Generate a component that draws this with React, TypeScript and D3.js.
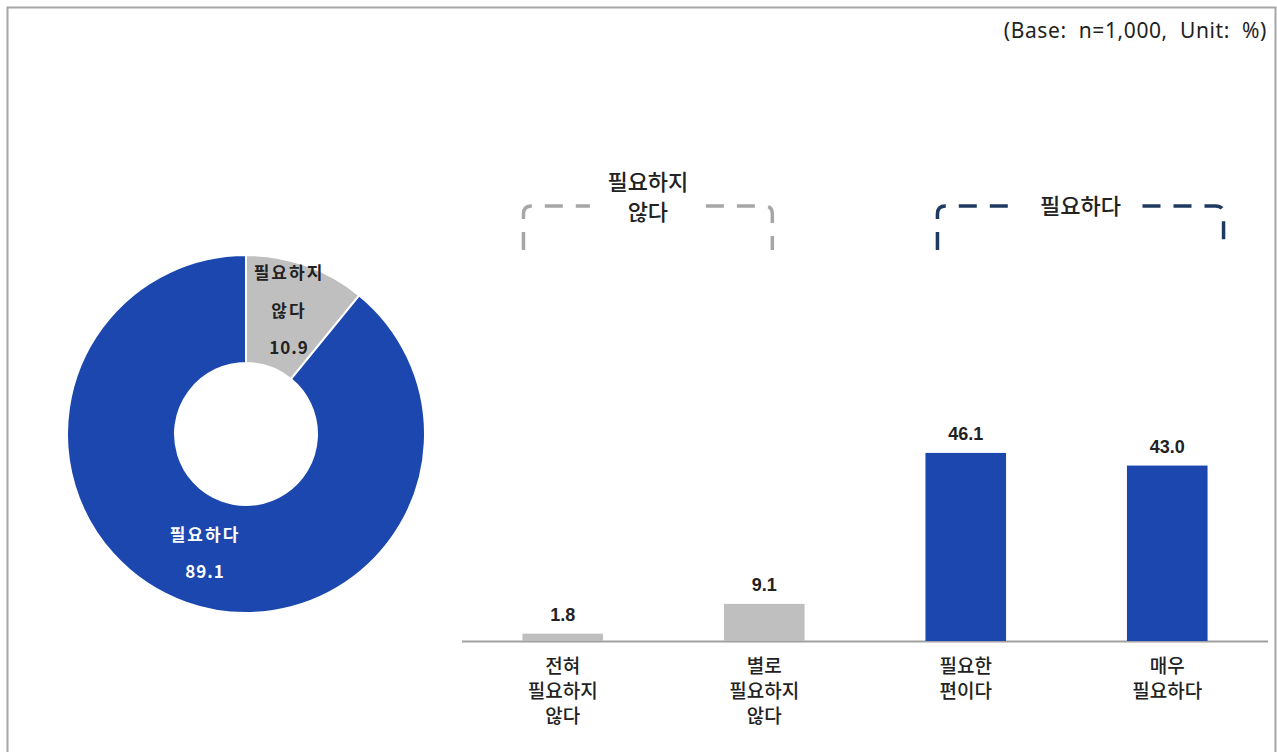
import React from "react";
import * as d3 from "d3";

const pieLabels = ["필요하지 않다", "필요하다"];
const pieValues = [10.9, 89.1];
const barCategories = ["전혀 필요하지 않다", "별로 필요하지 않다", "필요한 편이다", "매우 필요하다"];
const barLines = [["전혀", "필요하지", "않다"], ["별로", "필요하지", "않다"], ["필요한", "편이다"], ["매우", "필요하다"]];
const barValues = [1.8, 9.1, 46.1, 43.0];
const barGroup = ["neg", "neg", "pos", "pos"];
const baseNote = "(Base:  n=1,000,  Unit:  %)";

const BLUE = "#1b47ae";
const GRAY = "#bfbfbf";
const NAVY = "#1f3a60";
const KR = "'Noto Sans CJK KR', 'Noto Sans', sans-serif";

export default function App() {
  const W = 1277, H = 752;
  const cx = 246, cy = 434, rOut = 179, rIn = 71;
  const pie = d3.pie<number>().sort(null).value((d) => d);
  const arcs = pie(pieValues);
  const arc = d3.arc<d3.PieArcDatum<number>>().innerRadius(rIn).outerRadius(rOut);

  const x = d3.scaleBand<string>().domain(barCategories).range([462, 1268]).paddingInner(0.6).paddingOuter(0.3);
  const y = d3.scaleLinear().domain([0, 50]).range([641, 437]);

  const negL = x(barCategories[0])! + 1;
  const negR = x(barCategories[1])! + x.bandwidth() * 0.6;
  const posL = x(barCategories[2])! + 12;
  const posR = x(barCategories[3])! + x.bandwidth() + 16;
  const bTop = 206, bBot = 250, rc = 8;

  const bracket = (l: number, r: number, gapL: number, gapR: number) => [
    `M${l},${bBot} L${l},${bTop + rc} Q${l},${bTop} ${l + rc},${bTop} L${gapL},${bTop}`,
    `M${gapR},${bTop} L${r - rc},${bTop} Q${r},${bTop} ${r},${bTop + rc} L${r},${bBot}`,
  ];
  const negMid = (negL + negR) / 2;
  const posMid = (posL + posR) / 2;

  return (
    <svg width={W} height={H} style={{ position: "absolute", left: 0, top: 0, background: "#fff" }}>
      <path d={`M7.5,${H} L7.5,7.5 L1275.5,7.5 L1275.5,${H}`} fill="none" stroke="#a6a6a6" strokeWidth={2} />
      <text x={1267} y={38} textAnchor="end" fontFamily="'Noto Sans', sans-serif" fontSize={21} letterSpacing={0.6} fill="#222" style={{ whiteSpace: "pre" }}>
        {baseNote}
      </text>

      {arcs.map((a, i) => (
        <path key={i} d={arc(a)!} transform={`translate(${cx},${cy})`} fill={i === 0 ? GRAY : BLUE} stroke="#fff" strokeWidth={2} />
      ))}
      <g fontFamily={KR} fontWeight={700} fontSize={17} textAnchor="middle" letterSpacing={2}>
        <text x={289} y={279} fill="#222">필요하지</text>
        <text x={289} y={317} fill="#222">않다</text>
        <text x={289} y={354} fill="#222" letterSpacing={1}>{pieValues[0].toFixed(1)}</text>
        <text x={205} y={541} fill="#fff">필요하다</text>
        <text x={205} y={578} fill="#fff" letterSpacing={1}>{pieValues[1].toFixed(1)}</text>
      </g>

      <line x1={462} x2={1268} y1={641.5} y2={641.5} stroke="#a0a0a0" strokeWidth={2} />
      {barValues.map((v, i) => (
        <g key={i}>
          <rect x={x(barCategories[i])} y={y(v)} width={x.bandwidth()} height={y(0) - y(v)} fill={barGroup[i] === "neg" ? GRAY : BLUE} />
          <text x={x(barCategories[i])! + x.bandwidth() / 2} y={y(v) - 13} textAnchor="middle" fontFamily="'Liberation Sans', Arial, sans-serif" fontWeight={700} fontSize={18} fill="#222">
            {v.toFixed(1)}
          </text>
          {barLines[i].map((t, j) => (
            <text key={j} x={x(barCategories[i])! + x.bandwidth() / 2} y={673 + j * 25} textAnchor="middle" fontFamily={KR} fontWeight={500} fontSize={19} fill="#222">
              {t}
            </text>
          ))}
        </g>
      ))}

      {bracket(negL, negR, negMid - 58, negMid + 58).map((d, i) => (
        <path key={"n" + i} d={d} fill="none" stroke="#a6a6a6" strokeWidth={3.5} strokeDasharray="18 13" />
      ))}
      {bracket(posL, posR, posMid - 62, posMid + 62).map((d, i) => (
        <path key={"p" + i} d={d} fill="none" stroke={NAVY} strokeWidth={3.5} strokeDasharray="18 13" />
      ))}
      <g fontFamily={KR} fontWeight={500} fontSize={22} fill="#222" textAnchor="middle">
        <text x={negMid} y={190}>필요하지</text>
        <text x={negMid} y={220}>않다</text>
        <text x={posMid} y={214}>필요하다</text>
      </g>
    </svg>
  );
}
